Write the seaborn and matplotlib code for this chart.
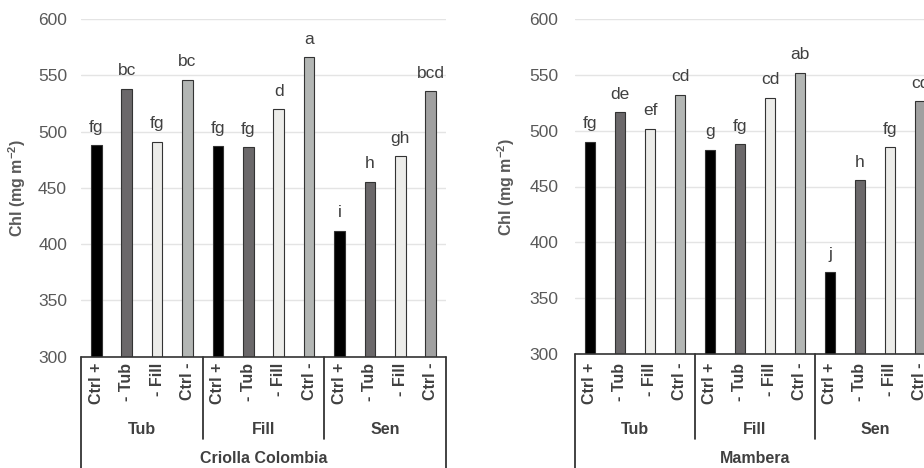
import matplotlib
matplotlib.use("Agg")
import matplotlib.pyplot as plt
import matplotlib.transforms as mtransforms
import seaborn as sns
import pandas as pd

# ---------------- data ----------------
stages = ["Tub", "Fill", "Sen"]
treatments = ["Ctrl +", "- Tub", "- Fill", "Ctrl -"]
varieties = ["Criolla Colombia", "Mambera"]

criolla_values = [488, 538, 491, 546, 487, 486, 520, 566, 412, 455.5, 478, 536]
criolla_letters = ["fg", "bc", "fg", "bc", "fg", "fg", "d", "a", "i", "h", "gh", "bcd"]

mambera_values = [490, 516.5, 501.5, 532, 483, 488, 529.5, 552, 373, 455.5, 485, 526.5]
mambera_letters = ["fg", "de", "ef", "cd", "g", "fg", "cd", "ab", "j", "h", "fg", "cd"]

yticks = [300, 350, 400, 450, 500, 550, 600]

# ---------------- style ----------------
sns.set_style("white")
plt.rcParams["font.family"] = ["Liberation Sans", "DejaVu Sans"]
plt.rcParams["mathtext.fontset"] = "custom"
plt.rcParams["mathtext.rm"] = "Liberation Sans:bold"
plt.rcParams["mathtext.bf"] = "Liberation Sans:bold"

trt_colors = {"Ctrl +": "#000000", "- Tub": "#6b686a", "- Fill": "#ecece9", "Ctrl -": "#b3b6b4"}
sen_ctrl_minus = "#a0a0a0"
TICK_C = "#595959"
LAB_C = "#404040"

W, H = 924, 468
fig = plt.figure(figsize=(W / 100, H / 100), dpi=100)


def fy(py):
    return (H - py) / H


panels = [
    dict(l=81, r=446, t=19, b=356.7, ylab=28, pad=10, vals=criolla_values, lets=criolla_letters,
         var=varieties[0], tl=363),
    dict(l=575, r=935, t=19, b=354, ylab=517, pad=12, vals=mambera_values, lets=mambera_letters,
         var=varieties[1], tl=363),
]

for p in panels:
    ax = fig.add_axes([p["l"] / W, fy(p["b"]), (p["r"] - p["l"]) / W, (p["b"] - p["t"]) / H])
    keys = [f"{s}|{t}" for s in stages for t in treatments]
    df = pd.DataFrame({
        "key": keys,
        "stage": [s for s in stages for t in treatments],
        "trt": [t for s in stages for t in treatments],
        "value": p["vals"],
    })
    colors = [sen_ctrl_minus if (s == "Sen" and t == "Ctrl -") else trt_colors[t]
              for s, t in zip(df["stage"], df["trt"])]
    sns.barplot(data=df, x="key", y="value", hue="key", palette=colors, dodge=False,
                width=0.35, edgecolor="#333333", linewidth=0.8, legend=False, ax=ax, zorder=3)
    ax.set_ylim(300, 600)
    ax.set_xlim(-0.5, 11.5)
    ax.set_yticks(yticks)
    ax.set_yticklabels([str(v) for v in yticks], fontsize=12.5, color=TICK_C)
    ax.tick_params(axis="y", length=0, pad=p["pad"])
    ax.set_xticks([])
    ax.set_xlabel("")
    ax.grid(axis="y", color="#e4e4e4", linewidth=1.0, zorder=0)
    ax.set_axisbelow(True)
    for sp in ax.spines.values():
        sp.set_visible(False)
    ax.axhline(300, color="#333333", linewidth=1.2, zorder=5, clip_on=False)

    ax.set_ylabel(r"Chl (mg m$^{-2}$)", fontsize=11.5, fontweight="bold", color=TICK_C)
    ax.yaxis.set_label_coords((p["ylab"] - p["l"]) / (p["r"] - p["l"]), 0.5)

    # letters above bars
    for i, (v, lt) in enumerate(zip(df["value"], p["lets"])):
        ax.annotate(lt, xy=(i, v), xytext=(0, 13.5), textcoords="offset pixels",
                    ha="center", va="baseline", fontsize=12.5, color=LAB_C,
                    annotation_clip=False)

    # hierarchical category axis
    tr = mtransforms.blended_transform_factory(ax.transData, fig.transFigure)
    for i, t in enumerate(df["trt"]):
        ax.text(i, fy(p["tl"]), t, rotation=90, ha="center", va="top", fontsize=11.5,
                fontweight="bold", color=LAB_C, transform=tr)
    for g, s in enumerate(stages):
        ax.text(g * 4 + 1.5, fy(429), s, ha="center", va="center", fontsize=11.5,
                fontweight="bold", color=LAB_C, transform=tr)
    for g in range(1, len(stages)):
        ax.plot([g * 4 - 0.5, g * 4 - 0.5], [fy(p["b"]), fy(439)], color="#222222",
                linewidth=1.2, transform=tr, clip_on=False)
    for xe in (-0.5, 11.5):
        ax.plot([xe, xe], [fy(p["b"]), fy(H + 10)], color="#222222", linewidth=1.2,
                transform=tr, clip_on=False)
    ax.text(5.5, fy(458.5), p["var"], ha="center", va="center", fontsize=11.5,
            fontweight="bold", color=LAB_C, transform=tr)

fig.savefig("out.png", dpi=100)
